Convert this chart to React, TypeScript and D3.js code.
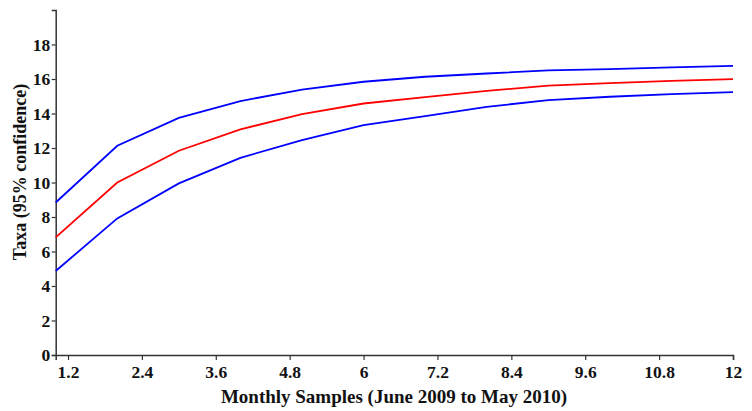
import React, { useEffect, useRef } from 'react'
import * as d3 from 'd3'

const months = [1, 2, 3, 4, 5, 6, 7, 8, 9, 10, 11, 12]
const upper = [8.84, 12.13, 13.75, 14.72, 15.39, 15.84, 16.13, 16.32, 16.5, 16.57, 16.67, 16.76]
const mean = [6.82, 10.0, 11.84, 13.08, 13.96, 14.58, 14.95, 15.31, 15.62, 15.76, 15.89, 15.99]
const lower = [4.87, 7.92, 9.95, 11.43, 12.46, 13.33, 13.85, 14.39, 14.77, 14.97, 15.12, 15.24]
const xTicks = [1.2, 2.4, 3.6, 4.8, 6, 7.2, 8.4, 9.6, 10.8, 12]
const yTicks = [0, 2, 4, 6, 8, 10, 12, 14, 16, 18]

const App = () => {
  const svgRef = useRef<SVGSVGElement>(null)

  useEffect(() => {
    const w = 752
    const h = 411
    const svg = d3.select(svgRef.current)
    svg.selectAll('*').remove()

    const x = d3.scaleLinear().domain([1, 12]).range([55.7, 733])
    const y = d3.scaleLinear().domain([0, 20]).range([355, 10])
    const font = '"Liberation Serif", "Times New Roman", serif'

    const xAxis = svg.append('g')
      .attr('transform', 'translate(0,355)')
      .call(d3.axisBottom(x).tickValues(xTicks).tickSizeOuter(0).tickSize(5).tickPadding(6).tickFormat(d => String(d)))
    const yAxis = svg.append('g')
      .attr('transform', 'translate(55.7,0)')
      .call(d3.axisLeft(y).tickValues(yTicks).tickSizeOuter(0).tickSize(4).tickPadding(1.5))

    ;[xAxis, yAxis].forEach(g => {
      g.select('.domain').attr('stroke', '#333').attr('stroke-width', 1.5)
      g.selectAll('.tick line').attr('stroke', '#333').attr('stroke-width', 1.2)
      g.selectAll('.tick text')
        .attr('fill', '#111')
        .style('font-family', font)
        .style('font-weight', 'bold')
        .style('font-size', '17.5px')
    })

    const line = d3.line<number>()
      .x((d, i) => x(months[i]))
      .y(d => y(d))

    const series = [
      { vals: upper, color: '#0000ff' },
      { vals: lower, color: '#0000ff' },
      { vals: mean, color: '#ff0000' },
    ]
    svg.selectAll('.line')
      .data(series)
      .join('path')
      .attr('class', 'line')
      .attr('d', d => line(d.vals))
      .attr('fill', 'none')
      .attr('stroke', d => d.color)
      .attr('stroke-width', 1.8)

    svg.append('text')
      .attr('x', 394)
      .attr('y', 403)
      .attr('text-anchor', 'middle')
      .style('font-family', font)
      .style('font-weight', 'bold')
      .style('font-size', '19px')
      .attr('fill', '#111')
      .text('Monthly Samples (June 2009 to May 2010)')

    svg.append('text')
      .attr('transform', 'translate(26,172) rotate(-90)')
      .attr('text-anchor', 'middle')
      .style('font-family', font)
      .style('font-weight', 'bold')
      .style('font-size', '18px')
      .attr('fill', '#111')
      .text('Taxa (95% confidence)')

    svg.attr('width', w).attr('height', h)
  }, [])

  return (
    <svg ref={svgRef} width={752} height={411}
      style={{ position: 'absolute', left: 0, top: 0, background: '#fff' }} />
  )
}

export default App
